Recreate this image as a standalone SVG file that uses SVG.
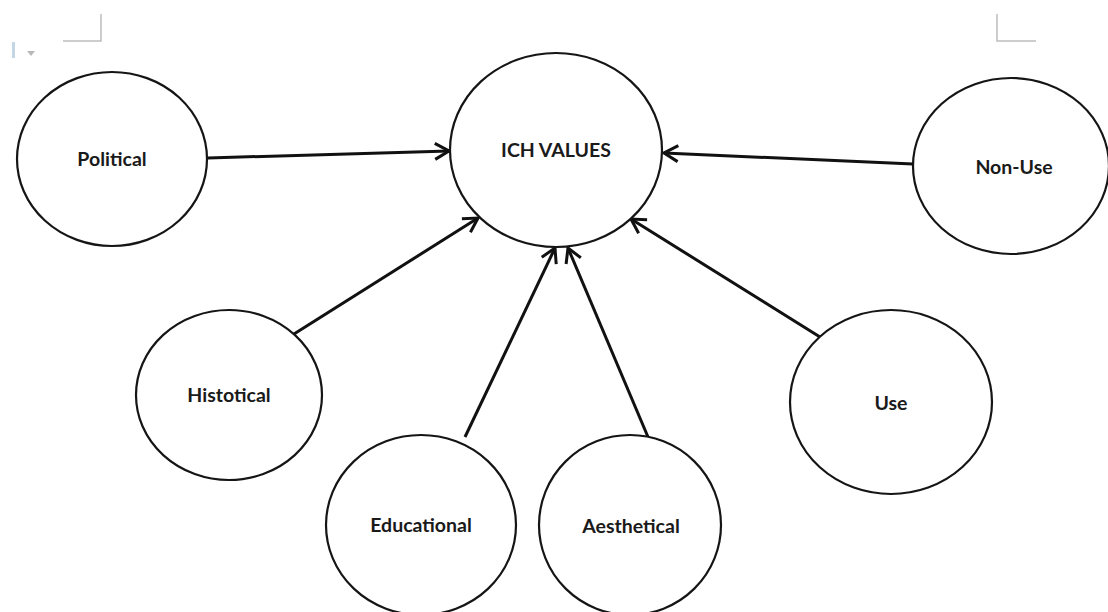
<svg xmlns="http://www.w3.org/2000/svg" width="1108" height="612" viewBox="0 0 1108 612">
  <defs>
    <style>
      .node ellipse { fill: #ffffff; stroke: #151515; stroke-width: 2.2; }
      .node text { font-family: Lato, "Open Sans", "Liberation Sans", sans-serif; font-weight: bold; font-size: 19.5px; fill: #1a1a1a; text-anchor: middle; }
      .edge { stroke: #111111; stroke-width: 3; fill: none; marker-end: url(#head); }
      .crop { stroke: #bdbdbd; stroke-width: 1.5; fill: none; }
    </style>
    <marker id="head" viewBox="0 0 20 20" refX="18" refY="10" markerWidth="20" markerHeight="20" markerUnits="userSpaceOnUse" orient="auto">
      <path d="M4,2 L18,10 L4,18" fill="none" stroke="#111111" stroke-width="3" stroke-linejoin="miter"/>
    </marker>
  </defs>
  <rect width="1108" height="612" fill="#ffffff"/>

  <!-- page corner marks -->
  <g id="page-marks">
    <path class="crop" d="M63,41 H101 V14"/>
    <path class="crop" d="M997,14 V41 H1036"/>
    <rect x="12" y="42" width="3" height="16" fill="#c5d6e4"/>
    <path d="M27,51 L35,51 L31,56 Z" fill="#b8b8b8"/>
  </g>

  <!-- connectors -->
  <g id="connectors">
    <line class="edge" x1="208" y1="158" x2="449" y2="151"/>
    <line class="edge" x1="913" y1="164" x2="664" y2="153"/>
    <line class="edge" x1="294" y1="334" x2="478" y2="218"/>
    <line class="edge" x1="820" y1="337" x2="631" y2="219"/>
    <line class="edge" x1="465" y1="437" x2="555" y2="248"/>
    <line class="edge" x1="648" y1="437" x2="568" y2="248"/>
  </g>

  <g id="ich-values" class="node">
    <ellipse cx="556" cy="150" rx="106" ry="97"/>
    <text x="556" y="157">ICH VALUES</text>
  </g>
  <g id="political" class="node">
    <ellipse cx="112" cy="159" rx="95" ry="87"/>
    <text x="112" y="166">Political</text>
  </g>
  <g id="non-use" class="node">
    <ellipse cx="1011" cy="166" rx="98" ry="88"/>
    <text x="1014" y="174">Non-Use</text>
  </g>
  <g id="histotical" class="node">
    <ellipse cx="229" cy="395" rx="93" ry="85"/>
    <text x="229" y="402">Histotical</text>
  </g>
  <g id="use" class="node">
    <ellipse cx="891" cy="402" rx="101" ry="92"/>
    <text x="891" y="410">Use</text>
  </g>
  <g id="educational" class="node">
    <ellipse cx="421" cy="525" rx="95" ry="90"/>
    <text x="421" y="532">Educational</text>
  </g>
  <g id="aesthetical" class="node">
    <ellipse cx="630" cy="525" rx="91" ry="90"/>
    <text x="631" y="533">Aesthetical</text>
  </g>
</svg>
